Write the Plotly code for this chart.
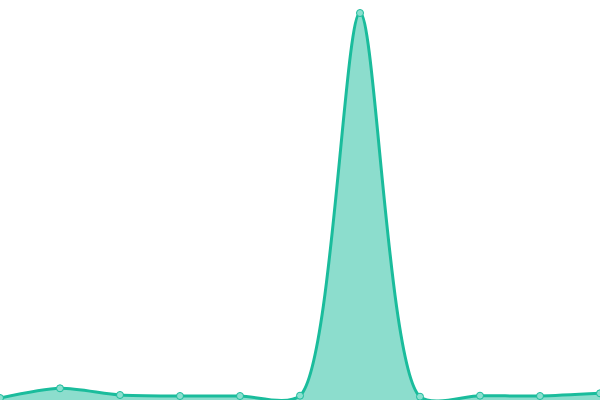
import plotly.graph_objects as go

x_vals = list(range(11))
y_vals = [2, 11.7, 5, 4, 4, 4.3, 387, 3.3, 4.3, 4, 6.7]

line_color = "#1abc9c"
fill_color = "rgba(26,188,156,0.5)"

fig = go.Figure()
fig.add_trace(go.Scatter(
    x=x_vals, y=y_vals,
    mode="lines+markers",
    line=dict(color=line_color, width=3, shape="spline", smoothing=0.75),
    fill="tozeroy",
    fillcolor=fill_color,
    marker=dict(size=7, color="#8be0cf", line=dict(color=line_color, width=1)),
    cliponaxis=False,
    hoverinfo="skip",
))
fig.update_layout(
    width=600, height=400,
    margin=dict(l=0, r=0, t=0, b=0),
    paper_bgcolor="white", plot_bgcolor="white",
    showlegend=False,
    xaxis=dict(visible=False, range=[0, 10], fixedrange=True),
    yaxis=dict(visible=False, range=[0, 400], fixedrange=True),
)
fig.write_html(
    "out.html",
    config={"displayModeBar": False},
    post_script="document.body.style.margin='0';document.body.style.overflow='hidden';",
)
